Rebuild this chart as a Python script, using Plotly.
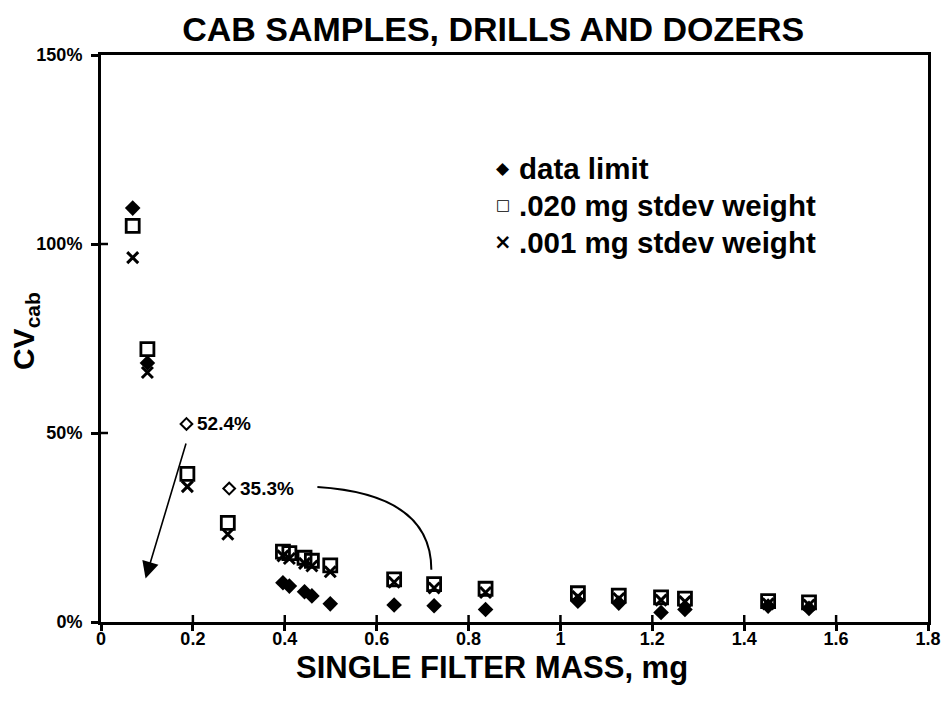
import plotly.graph_objects as go

# ---- data ----
mass_mg = [0.069, 0.101, 0.188, 0.276, 0.396, 0.410, 0.443, 0.459, 0.499,
           0.638, 0.725, 0.837, 1.038, 1.127, 1.219, 1.271, 1.452, 1.541]
data_limit = [109.5, 68.5, None, None, 10.4, 9.5, 8.0, 6.9, 4.8,
              4.5, 4.3, 3.3, 5.5, 5.0, 2.5, 3.3, 4.2, 3.6]
stdev_020 = [104.8, 72.2, 39.2, 26.2, 18.6, 18.2, 17.0, 16.2, 15.0,
             11.3, 10.0, 8.8, 7.6, 7.0, 6.5, 6.2, 5.5, 5.2]
stdev_001 = [96.4, 66.0, 35.8, 23.2, 17.5, 16.8, 15.5, 14.8, 13.3,
             10.5, 9.0, 7.8, 6.7, 6.2, 5.8, 5.4, 4.8, 4.5]
# off-trend data-limit points shown as open diamonds with labels
limit_out_x = [0.186, 0.279]
limit_out_y = [52.4, 35.3]
limit_out_labels = ["52.4%", "35.3%"]

x_ticks = [0, 0.2, 0.4, 0.6, 0.8, 1.0, 1.2, 1.4, 1.6, 1.8]
x_tick_labels = ["0", "0.2", "0.4", "0.6", "0.8", "1", "1.2", "1.4", "1.6", "1.8"]
y_ticks = [0, 50, 100, 150]
y_tick_labels = ["0%", "50%", "100%", "150%"]

legend_symbols = ["\u25C6", "\u25A1", "\u00D7"]
legend_labels = ["data limit", ".020 mg stdev weight", ".001 mg stdev weight"]

# arrow geometry (data units)
arrow1 = dict(x0=0.186, y0=47.6, x1=0.097, y1=11.5)
curve = [(0.471, 35.7), (0.640, 34.4), (0.719, 27.0), (0.719, 13.8)]

FONT = "Liberation Sans, Arial, sans-serif"
BLACK = "#000000"

fig = go.Figure()

fig.add_trace(go.Scatter(
    x=mass_mg, y=data_limit, mode="markers", name="data limit", showlegend=False,
    marker=dict(symbol="diamond", size=12, color=BLACK)))
fig.add_trace(go.Scatter(
    x=mass_mg, y=stdev_001, mode="markers", name=".001 mg stdev weight", showlegend=False,
    marker=dict(symbol="x-thin-open", size=11, color=BLACK,
                line=dict(width=3, color=BLACK))))
fig.add_trace(go.Scatter(
    x=mass_mg, y=stdev_020, mode="markers", name=".020 mg stdev weight", showlegend=False,
    marker=dict(symbol="square-open", size=13, color=BLACK,
                line=dict(width=2.8, color=BLACK))))
fig.add_trace(go.Scatter(
    x=limit_out_x, y=limit_out_y, mode="markers", showlegend=False,
    marker=dict(symbol="diamond-open", size=9, color=BLACK,
                line=dict(width=2, color=BLACK))))

for xv, yv, lab in zip(limit_out_x, limit_out_y, limit_out_labels):
    fig.add_annotation(x=xv, y=yv, xref="x", yref="y", text="<b>%s</b>" % lab,
                       showarrow=False, xanchor="left", yanchor="middle",
                       xshift=9, font=dict(family=FONT, size=19, color=BLACK))

fig.add_annotation(x=arrow1["x1"], y=arrow1["y1"], ax=arrow1["x0"], ay=arrow1["y0"],
                   xref="x", yref="y", axref="x", ayref="y", text="",
                   showarrow=True, arrowhead=2, arrowsize=2.1, arrowwidth=1.6,
                   arrowcolor=BLACK, standoff=0, startstandoff=0)

path = "M {},{} C {},{} {},{} {},{}".format(*[v for p in curve for v in p])
fig.add_shape(type="path", path=path, xref="x", yref="y",
              line=dict(color=BLACK, width=2))

# inside halves of the crossing tick marks
for v in x_ticks[1:-1]:
    fig.add_shape(type="line", xref="x", yref="y domain", x0=v, x1=v, y0=0, y1=7 / 567,
                  line=dict(color=BLACK, width=2.5))
for v in y_ticks[1:-1]:
    fig.add_shape(type="line", xref="x domain", yref="y", x0=0, x1=7 / 827, y0=v, y1=v,
                  line=dict(color=BLACK, width=2.5))

# legend drawn as text rows
leg_y = [0.8007, 0.7354, 0.670]
leg_sym_size = [17, 15, 21]
for sym, lab, yy, ss in zip(legend_symbols, legend_labels, leg_y, leg_sym_size):
    fig.add_annotation(xref="paper", yref="paper", x=0.486, y=yy, text="<b>%s</b>" % sym,
                       showarrow=False, xanchor="center", yanchor="middle",
                       font=dict(family="DejaVu Sans", size=ss, color=BLACK))
    fig.add_annotation(xref="paper", yref="paper", x=0.503, y=yy, text="<b>%s</b>" % lab,
                       showarrow=False, xanchor="left", yanchor="middle",
                       font=dict(family=FONT, size=29.5, color=BLACK))

# axis titles
fig.add_annotation(xref="paper", yref="paper", x=0.4728, y=-0.0794,
                   text="<b>SINGLE FILTER MASS, mg</b>", showarrow=False,
                   xanchor="center", yanchor="middle",
                   font=dict(family=FONT, size=31, color=BLACK))
fig.add_annotation(xref="paper", yref="paper", x=-0.092, y=0.513,
                   text="<b>CV<sub>cab</sub></b>", showarrow=False, textangle=-90,
                   xanchor="center", yanchor="middle",
                   font=dict(family=FONT, size=30, color=BLACK))

tick_font = dict(family=FONT, size=18, color=BLACK)

fig.update_layout(
    width=943, height=704,
    paper_bgcolor="white", plot_bgcolor="white",
    margin=dict(l=101, r=15, t=55, b=82),
    title=dict(text="<b>CAB SAMPLES, DRILLS AND DOZERS</b>", x=0.523, xanchor="center",
               y=0.976, yanchor="top",
               font=dict(family=FONT, size=34, color=BLACK)),
    showlegend=False,
    xaxis=dict(range=[0, 1.8], tickmode="array", tickvals=x_ticks,
               ticktext=["<b>%s</b>" % t for t in x_tick_labels],
               ticks="outside", ticklen=6, tickwidth=2.5, tickcolor=BLACK,
               showline=True, linewidth=3, linecolor=BLACK, mirror=True,
               showgrid=False, zeroline=False, tickfont=tick_font, automargin=False,
               ticklabelstandoff=-8),
    yaxis=dict(range=[0, 150], tickmode="array", tickvals=y_ticks,
               ticktext=["<b>%s</b>" % t for t in y_tick_labels],
               ticks="outside", ticklen=7, tickwidth=2.5, tickcolor=BLACK,
               showline=True, linewidth=3, linecolor=BLACK, mirror=True,
               showgrid=False, zeroline=False, tickfont=tick_font, automargin=False,
               ticklabelstandoff=5),
)

fig.write_html("out.html", config={"displayModeBar": False},
               post_script="document.body.style.margin='0';")
